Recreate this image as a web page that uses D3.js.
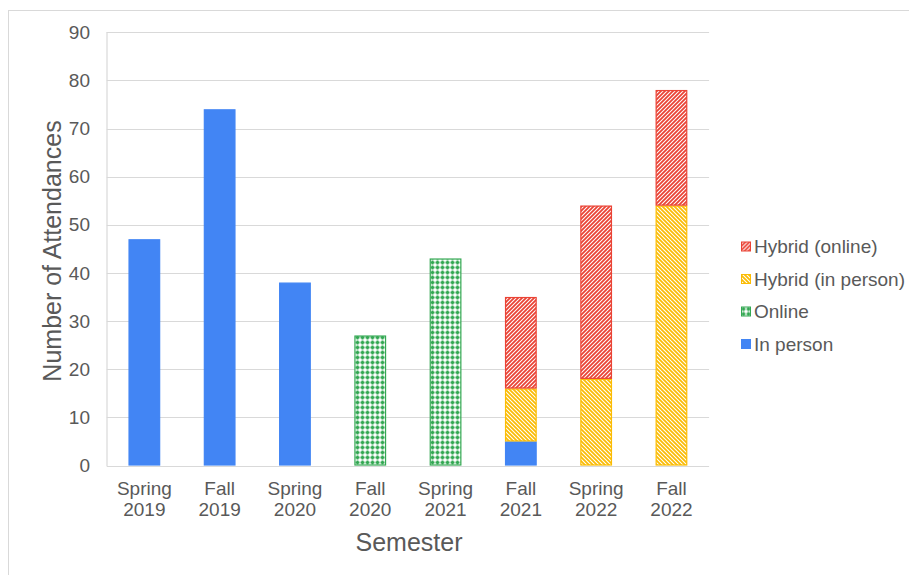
<!DOCTYPE html>
<html>
<head>
<meta charset="utf-8">
<script src="https://cdn.jsdelivr.net/npm/d3@7"></script>
<style>
  html, body { margin: 0; padding: 0; background: #ffffff; }
  svg { display: block; font-family: "Liberation Sans", Arial, sans-serif; }
</style>
</head>
<body>
<svg id="chart" width="909" height="575"></svg>
<script>
// Attendance per semester, split by attendance mode
const semesters = ["Spring 2019", "Fall 2019", "Spring 2020", "Fall 2020",
                   "Spring 2021", "Fall 2021", "Spring 2022", "Fall 2022"];
const inPerson       = [47, 74, 38, 0, 0, 5, 0, 0];
const online         = [0, 0, 0, 27, 43, 0, 0, 0];
const hybridInPerson = [0, 0, 0, 0, 0, 11, 18, 54];
const hybridOnline   = [0, 0, 0, 0, 0, 19, 36, 24];
const yTicks = [0, 10, 20, 30, 40, 50, 60, 70, 80, 90];

const seriesDefs = [
  { key: "inPerson",       label: "In person",           values: inPerson,       color: "#4285f4", fill: "#4285f4" },
  { key: "online",         label: "Online",              values: online,         color: "#34a853", fill: "url(#pat-online)" },
  { key: "hybridInPerson", label: "Hybrid (in person)",  values: hybridInPerson, color: "#fbbc04", fill: "url(#pat-hyb-in)" },
  { key: "hybridOnline",   label: "Hybrid (online)",     values: hybridOnline,   color: "#ea4335", fill: "url(#pat-hyb-on)" }
];

const rows = semesters.map((s, i) => {
  const r = { semester: s };
  seriesDefs.forEach(d => { r[d.key] = d.values[i]; });
  return r;
});

const svg = d3.select("#chart");
const defs = svg.append("defs");

// Diagonal hatch "/" in red
const pOn = defs.append("pattern").attr("id", "pat-hyb-on")
  .attr("patternUnits", "userSpaceOnUse").attr("width", 4).attr("height", 4);
pOn.append("rect").attr("width", 4).attr("height", 4).attr("fill", "#ffffff");
pOn.append("path").attr("d", "M-1,1 l2,-2 M0,4 l4,-4 M3,5 l2,-2")
  .attr("stroke", "#ea4335").attr("stroke-width", 1.8);

// Diagonal hatch "\" in yellow
const pIn = defs.append("pattern").attr("id", "pat-hyb-in")
  .attr("patternUnits", "userSpaceOnUse").attr("width", 4).attr("height", 4);
pIn.append("rect").attr("width", 4).attr("height", 4).attr("fill", "#ffffff");
pIn.append("path").attr("d", "M-1,3 l2,2 M0,0 l4,4 M3,-1 l2,2")
  .attr("stroke", "#fbbc04").attr("stroke-width", 1.8);

// Small plus grid in green
const pOl = defs.append("pattern").attr("id", "pat-online")
  .attr("patternUnits", "userSpaceOnUse").attr("width", 5).attr("height", 5);
pOl.append("rect").attr("width", 5).attr("height", 5).attr("fill", "#ffffff");
pOl.append("rect").attr("x", 0.5).attr("y", 1.5).attr("width", 4).attr("height", 2).attr("fill", "#34a853");
pOl.append("rect").attr("x", 1.5).attr("y", 0.5).attr("width", 2).attr("height", 4).attr("fill", "#34a853");

// Outer frame
svg.append("rect").attr("x", 8.5).attr("y", 10.5).attr("width", 1000).attr("height", 1000)
  .attr("fill", "none").attr("stroke", "#d9d9d9").attr("stroke-width", 1);

const x = d3.scaleBand().domain(semesters).range([106.7, 709.1])
  .paddingInner(0.58).paddingOuter(0.29);
const y = d3.scaleLinear().domain([0, 90]).range([465.5, 32.3]);

// Gridlines
svg.append("g").selectAll("line").data(yTicks).join("line")
  .attr("x1", 106.7).attr("x2", 709.1)
  .attr("y1", d => Math.round(y(d)) + 0.5).attr("y2", d => Math.round(y(d)) + 0.5)
  .attr("stroke", "#d9d9d9").attr("stroke-width", 1.2);

// Left axis line
svg.append("line").attr("x1", 107).attr("x2", 107).attr("y1", 32).attr("y2", 466)
  .attr("stroke", "#d9d9d9").attr("stroke-width", 1.2);

// Y axis tick labels
const yAxis = d3.axisLeft(y).tickValues(yTicks).tickSize(0).tickPadding(17);
const gy = svg.append("g").attr("transform", "translate(107,0)").call(yAxis);
gy.select(".domain").remove();
gy.selectAll("text").attr("font-size", 19).attr("fill", "#595959")
  .attr("font-family", "Liberation Sans, Arial, sans-serif");

// Stacked bars
const stack = d3.stack().keys(seriesDefs.map(d => d.key));
const stacked = stack(rows);
const layers = svg.append("g").selectAll("g").data(stacked).join("g");
layers.each(function(layer, li) {
  const def = seriesDefs[li];
  d3.select(this).selectAll("rect")
    .data(layer.filter(d => d[1] - d[0] > 0))
    .join("rect")
    .attr("x", d => x(d.data.semester) + 0.5)
    .attr("width", x.bandwidth() - 1)
    .attr("y", d => y(d[1]) + 0.5)
    .attr("height", d => y(d[0]) - y(d[1]) - 1)
    .attr("fill", def.fill)
    .attr("stroke", def.color)
    .attr("stroke-width", 1.2);
});

// X axis category labels (two lines)
const xl = svg.append("g").selectAll("text").data(semesters).join("text")
  .attr("text-anchor", "middle")
  .attr("font-size", 19).attr("fill", "#595959")
  .attr("transform", d => `translate(${x(d) + x.bandwidth() / 2},0)`);
xl.each(function(d) {
  const parts = d.split(" ");
  const t = d3.select(this);
  t.append("tspan").attr("x", 0).attr("y", 495).text(parts[0]);
  t.append("tspan").attr("x", 0).attr("y", 516).text(parts[1]);
});

// Axis titles
svg.append("text").attr("x", 409).attr("y", 551)
  .attr("text-anchor", "middle").attr("font-size", 25).attr("fill", "#595959")
  .text("Semester");
svg.append("text")
  .attr("transform", "translate(61,251) rotate(-90)")
  .attr("text-anchor", "middle").attr("font-size", 25).attr("fill", "#595959")
  .text("Number of Attendances");

// Legend
const legendOrder = ["hybridOnline", "hybridInPerson", "online", "inPerson"];
const lg = svg.append("g").selectAll("g").data(legendOrder).join("g")
  .attr("transform", (d, i) => `translate(741,${246.5 + i * 32.5})`);
lg.append("rect").attr("x", 0.5).attr("y", -4.5).attr("width", 9).attr("height", 9)
  .attr("fill", k => seriesDefs.find(s => s.key === k).fill)
  .attr("stroke", k => seriesDefs.find(s => s.key === k).color).attr("stroke-width", 1);
lg.append("text").attr("x", 13).attr("y", 0).attr("dy", "0.35em")
  .attr("font-size", 19).attr("fill", "#595959")
  .text(k => seriesDefs.find(s => s.key === k).label);
</script>
</body>
</html>
